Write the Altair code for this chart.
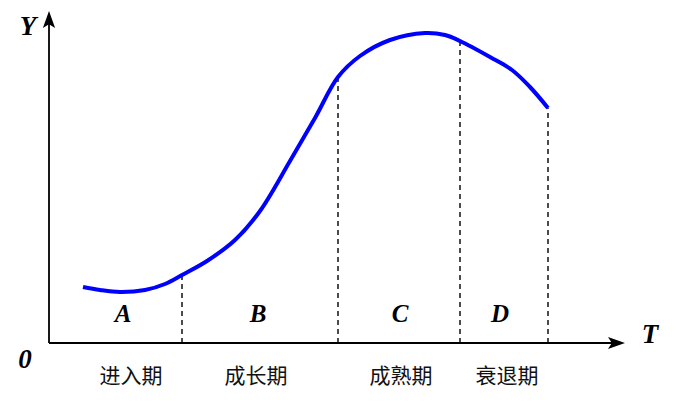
import altair as alt
import pandas as pd

# Curve (units relative to the axis origin, x to the right, y upward)
curve_x = [34, 51, 71, 96, 116, 133, 158, 186, 211, 241, 266, 289, 311, 341, 376, 396, 411, 441, 463, 481, 499]
curve_y = [56, 53, 51, 53, 59, 68, 82, 103, 132, 182, 225, 266, 287, 303, 310, 308, 302, 286, 273, 256, 235]

# Stage boundaries (dashed lines)
bound_x = [133, 289, 411, 499]
bound_y = [68, 266, 302, 235]

# Stage letters and names
letters = ["A", "B", "C", "D"]
letter_x = [74, 209, 351, 451]
letter_y = [29, 29, 29, 29]
stages = ["进入期", "成长期", "成熟期", "衰退期"]
stage_x = [82, 207, 352, 458]
stage_y = [-34, -34, -34, -34]

# Axis labels
ax_labels = ["Y", "T", "0"]
ax_lx = [-21, 601, -24]
ax_ly = [316, 8, -17]

W, H = 676, 414
xs = alt.Scale(domain=[-49, 627], range=[0, W])
ys = alt.Scale(domain=[-71, 343], range=[H, 0])

X = lambda f: alt.X(f, type="quantitative", scale=xs, axis=None)
Y = lambda f: alt.Y(f, type="quantitative", scale=ys, axis=None)

curve_df = pd.DataFrame({"x": curve_x, "y": curve_y, "o": range(len(curve_x))})
bound_df = pd.DataFrame({"x": bound_x, "y": bound_y, "y0": [0] * 4})
letter_df = pd.DataFrame({"t": letters, "x": letter_x, "y": letter_y})
stage_df = pd.DataFrame({"t": stages, "x": stage_x, "y": stage_y})
axl_df = pd.DataFrame({"t": ax_labels, "x": ax_lx, "y": ax_ly})

axes_df = pd.DataFrame({"x": [0, 0], "y": [0, 0], "x2": [0, 570], "y2": [326, 0]})
arrow_df = pd.DataFrame({"x": [0, 576], "y": [332, 0], "a": [0, 90]})

arrow_path = "M0,0 L0.72,2 L0,1.55 L-0.72,2 Z"

axes = alt.Chart(axes_df).mark_rule(color="#000", strokeWidth=1.8).encode(
    x=X("x"), y=Y("y"), x2="x2", y2="y2")
arrows = alt.Chart(arrow_df).mark_point(
    shape=arrow_path, filled=True, color="#000", size=289, opacity=1).encode(
    x=X("x"), y=Y("y"), angle=alt.Angle("a:Q", scale=None))
bounds = alt.Chart(bound_df).mark_rule(color="#000", strokeWidth=1.4, strokeDash=[5, 4]).encode(
    x=X("x"), y=Y("y0"), y2="y")
curve = alt.Chart(curve_df).mark_line(color="#0000FF", strokeWidth=4, interpolate="catmull-rom").encode(
    x=X("x"), y=Y("y"), order="o:Q")
letter_txt = alt.Chart(letter_df).mark_text(
    font="Liberation Serif", fontSize=25, fontWeight="bold", fontStyle="italic",
    baseline="middle", align="center", color="#000").encode(x=X("x"), y=Y("y"), text="t")
stage_txt = alt.Chart(stage_df).mark_text(
    font="Noto Sans CJK SC", fontSize=21, baseline="middle", align="center", color="#111").encode(
    x=X("x"), y=Y("y"), text="t")
axl_txt = alt.Chart(axl_df).mark_text(
    font="Liberation Serif", fontSize=27, fontWeight="bold", fontStyle="italic",
    baseline="middle", align="center", color="#000").encode(x=X("x"), y=Y("y"), text="t")

chart = alt.layer(axes, arrows, bounds, curve, letter_txt, stage_txt, axl_txt).properties(
    width=W, height=H, autosize="none", padding=0, background="white"
).configure_view(stroke=None)

chart.save("out.html", embed_options={"renderer": "svg", "actions": False})
